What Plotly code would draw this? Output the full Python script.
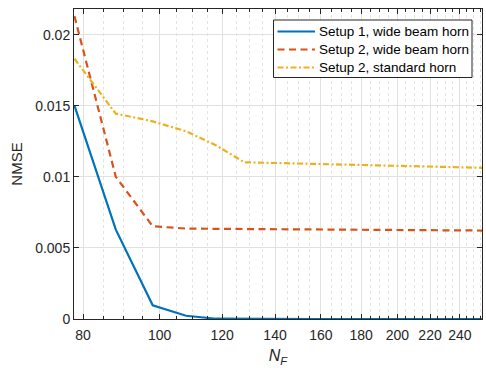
import math
import plotly.graph_objects as go

NF = [78, 88, 98, 108, 118, 128, 138, 148, 158, 168, 178, 188, 198, 208, 218, 228, 238, 248, 258]
setup1_wide = [0.0150, 0.00628, 0.00096, 0.00023, 0.00002, 0.0, 0.0, 0.0, 0.0, 0.0,
               0.0, 0.0, 0.0, 0.0, 0.0, 0.0, 0.0, 0.0, 0.0]
setup2_wide = [0.0213, 0.0100, 0.00652, 0.00636, 0.00634, 0.00633, 0.00632, 0.00631, 0.00631, 0.00630,
               0.00629, 0.00628, 0.00628, 0.00627, 0.00626, 0.00625, 0.00624, 0.00623, 0.00622]
setup2_std = [0.0183, 0.01444, 0.0139, 0.0132, 0.0122, 0.01102, 0.01098, 0.01094, 0.01090, 0.01087,
              0.01084, 0.01081, 0.01078, 0.01076, 0.01073, 0.01070, 0.01068, 0.01065, 0.01063]
names = ["Setup 1, wide beam horn", "Setup 2, wide beam horn", "Setup 2, standard horn"]
colors = ["#0072BD", "#D95319", "#EDB120"]
dashes = ["solid", "7px,4.5px", "6px,2.5px,2px,2.5px"]

x_ticks = [80, 100, 120, 140, 160, 180, 200, 220, 240]
x_minor = [85, 90, 95, 105, 110, 115, 125, 130, 135, 145, 150, 155, 165, 170, 175,
           185, 190, 195, 205, 210, 215, 225, 230, 235, 245, 250, 255]
y_ticks = [0, 0.005, 0.01, 0.015, 0.02]
y_ticktext = ["0", "0.005", "0.01", "0.015", "0.02"]

AX = "#262626"
FONT = "Liberation Sans, Arial, Helvetica, sans-serif"
W, H = 486, 368
ML, MR, MT, MB = 74, 4, 9, 49
PW, PH = W - ML - MR, H - MT - MB


def px(xp):
    return (xp - ML) / PW


def py(yp):
    return (H - MB - yp) / PH


fig = go.Figure()
for yv, nm, c, d in zip([setup1_wide, setup2_wide, setup2_std], names, colors, dashes):
    fig.add_trace(go.Scatter(x=NF, y=yv, mode="lines", name=nm, showlegend=False,
                             line=dict(color=c, width=2.2, dash=d)))

# manual legend (box, samples, labels)
shapes = [dict(type="rect", xref="paper", yref="paper", layer="above",
               x0=px(273.5), x1=px(472), y0=py(77.5), y1=py(20),
               fillcolor="white", line=dict(color=AX, width=1))]
annotations = []
row_y = [31.5, 49.5, 67.5]
for ry, nm, c, d in zip(row_y, names, colors, dashes):
    shapes.append(dict(type="line", xref="paper", yref="paper", layer="above",
                       x0=px(277.5), x1=px(315), y0=py(ry), y1=py(ry),
                       line=dict(color=c, width=2.2, dash=d)))
    annotations.append(dict(xref="paper", yref="paper", x=px(316.5), y=py(ry),
                            xanchor="left", yanchor="middle", showarrow=False,
                            text=nm, font=dict(size=13.5, color="black", family=FONT)))

fig.update_layout(
    width=W, height=H,
    margin=dict(l=ML, r=MR, t=MT, b=MB),
    paper_bgcolor="white", plot_bgcolor="white",
    font=dict(family=FONT, size=14, color=AX),
    showlegend=False,
    shapes=shapes, annotations=annotations,
)
fig.update_xaxes(
    type="log", range=[math.log10(77.9), math.log10(256)],
    tickvals=x_ticks, ticktext=[str(v) for v in x_ticks],
    ticks="inside", ticklen=5, tickcolor=AX, tickwidth=1, ticklabelstandoff=3,
    showline=True, linecolor=AX, linewidth=1, mirror="allticks",
    showgrid=True, gridcolor="#E1E1E1", gridwidth=1,
    minor=dict(tickvals=x_minor, ticks="inside", ticklen=3, tickcolor=AX,
               showgrid=True, gridcolor="#E3E3E3", griddash="dot", gridwidth=1),
    zeroline=False, automargin=False,
    title=dict(text="<i>N</i><sub><i>F</i></sub>", font=dict(size=16, color=AX), standoff=8),
)
fig.update_yaxes(
    range=[0, 0.0218],
    tickvals=y_ticks, ticktext=y_ticktext,
    ticks="inside", ticklen=5, tickcolor=AX, tickwidth=1,
    showline=True, linecolor=AX, linewidth=1, mirror="allticks",
    showgrid=True, gridcolor="#E1E1E1", gridwidth=1,
    zeroline=False, automargin=False,
    title=dict(text="NMSE", font=dict(size=15, color=AX), standoff=8),
)
fig.write_html("out.html")
